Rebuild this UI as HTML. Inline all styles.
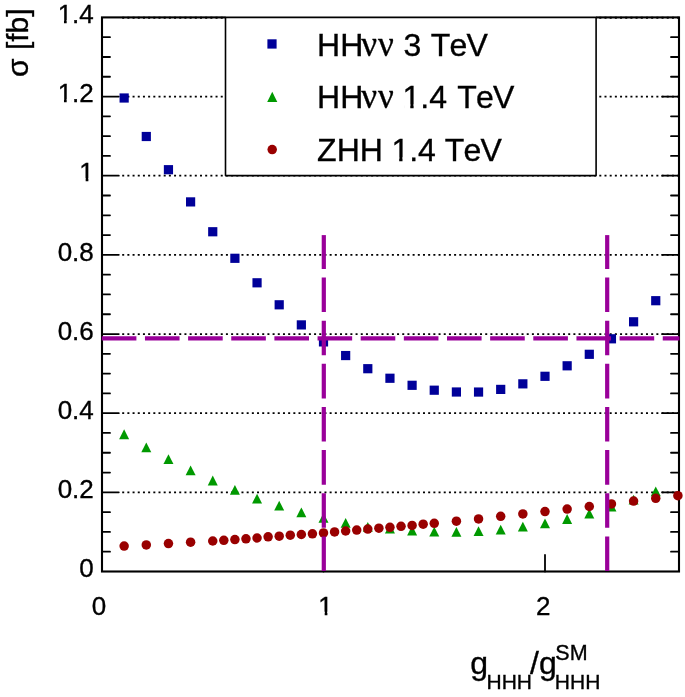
<!DOCTYPE html>
<html lang="en"><head><meta charset="utf-8"><title>Cross section vs coupling</title>
<style>html,body{margin:0;padding:0;background:#fff}svg{display:block}text{font-family:"Liberation Sans",Arial,sans-serif;fill:#000;font-kerning:none;stroke:#000;stroke-width:.35px}.nu{font-family:"Liberation Serif","DejaVu Serif",serif;font-size:35px;letter-spacing:1px}</style></head><body>
<svg width="685" height="697" viewBox="0 0 685 697">
<rect width="685" height="697" fill="#fff"/>
<rect x="102.0" y="17.4" width="577.0" height="554.1" fill="none" stroke="#000" stroke-width="2.1"/>
<g stroke="#000" stroke-width="1.8" stroke-linecap="round" fill="none">
<line x1="102.0" y1="551.71" x2="110.0" y2="551.71"/>
<line x1="679.0" y1="551.71" x2="671.0" y2="551.71"/>
<line x1="102.0" y1="531.92" x2="110.0" y2="531.92"/>
<line x1="679.0" y1="531.92" x2="671.0" y2="531.92"/>
<line x1="102.0" y1="512.13" x2="110.0" y2="512.13"/>
<line x1="679.0" y1="512.13" x2="671.0" y2="512.13"/>
<line x1="102.0" y1="492.34" x2="118.8" y2="492.34"/>
<line x1="679.0" y1="492.34" x2="662.2" y2="492.34"/>
<line x1="102.0" y1="472.55" x2="110.0" y2="472.55"/>
<line x1="679.0" y1="472.55" x2="671.0" y2="472.55"/>
<line x1="102.0" y1="452.76" x2="110.0" y2="452.76"/>
<line x1="679.0" y1="452.76" x2="671.0" y2="452.76"/>
<line x1="102.0" y1="432.97" x2="110.0" y2="432.97"/>
<line x1="679.0" y1="432.97" x2="671.0" y2="432.97"/>
<line x1="102.0" y1="413.19" x2="118.8" y2="413.19"/>
<line x1="679.0" y1="413.19" x2="662.2" y2="413.19"/>
<line x1="102.0" y1="393.40" x2="110.0" y2="393.40"/>
<line x1="679.0" y1="393.40" x2="671.0" y2="393.40"/>
<line x1="102.0" y1="373.61" x2="110.0" y2="373.61"/>
<line x1="679.0" y1="373.61" x2="671.0" y2="373.61"/>
<line x1="102.0" y1="353.82" x2="110.0" y2="353.82"/>
<line x1="679.0" y1="353.82" x2="671.0" y2="353.82"/>
<line x1="102.0" y1="334.03" x2="118.8" y2="334.03"/>
<line x1="679.0" y1="334.03" x2="662.2" y2="334.03"/>
<line x1="102.0" y1="314.24" x2="110.0" y2="314.24"/>
<line x1="679.0" y1="314.24" x2="671.0" y2="314.24"/>
<line x1="102.0" y1="294.45" x2="110.0" y2="294.45"/>
<line x1="679.0" y1="294.45" x2="671.0" y2="294.45"/>
<line x1="102.0" y1="274.66" x2="110.0" y2="274.66"/>
<line x1="679.0" y1="274.66" x2="671.0" y2="274.66"/>
<line x1="102.0" y1="254.87" x2="118.8" y2="254.87"/>
<line x1="679.0" y1="254.87" x2="662.2" y2="254.87"/>
<line x1="102.0" y1="235.08" x2="110.0" y2="235.08"/>
<line x1="679.0" y1="235.08" x2="671.0" y2="235.08"/>
<line x1="102.0" y1="215.29" x2="110.0" y2="215.29"/>
<line x1="679.0" y1="215.29" x2="671.0" y2="215.29"/>
<line x1="102.0" y1="195.50" x2="110.0" y2="195.50"/>
<line x1="679.0" y1="195.50" x2="671.0" y2="195.50"/>
<line x1="102.0" y1="175.71" x2="118.8" y2="175.71"/>
<line x1="679.0" y1="175.71" x2="662.2" y2="175.71"/>
<line x1="102.0" y1="155.92" x2="110.0" y2="155.92"/>
<line x1="679.0" y1="155.92" x2="671.0" y2="155.92"/>
<line x1="102.0" y1="136.14" x2="110.0" y2="136.14"/>
<line x1="679.0" y1="136.14" x2="671.0" y2="136.14"/>
<line x1="102.0" y1="116.35" x2="110.0" y2="116.35"/>
<line x1="679.0" y1="116.35" x2="671.0" y2="116.35"/>
<line x1="102.0" y1="96.56" x2="118.8" y2="96.56"/>
<line x1="679.0" y1="96.56" x2="662.2" y2="96.56"/>
<line x1="102.0" y1="76.77" x2="110.0" y2="76.77"/>
<line x1="679.0" y1="76.77" x2="671.0" y2="76.77"/>
<line x1="102.0" y1="56.98" x2="110.0" y2="56.98"/>
<line x1="679.0" y1="56.98" x2="671.0" y2="56.98"/>
<line x1="102.0" y1="37.19" x2="110.0" y2="37.19"/>
<line x1="679.0" y1="37.19" x2="671.0" y2="37.19"/>
<line x1="323.5" y1="571.5" x2="323.5" y2="554.9"/>
<line x1="323.5" y1="17.4" x2="323.5" y2="34.0"/>
<line x1="545.0" y1="571.5" x2="545.0" y2="554.9"/>
<line x1="545.0" y1="17.4" x2="545.0" y2="34.0"/>
</g>
<g stroke="#000" stroke-width="1.8" stroke-dasharray="2 3.186" fill="none">
<line x1="122.2" y1="492.34" x2="679.0" y2="492.34"/>
<line x1="122.2" y1="413.19" x2="679.0" y2="413.19"/>
<line x1="122.2" y1="334.03" x2="679.0" y2="334.03"/>
<line x1="122.2" y1="254.87" x2="679.0" y2="254.87"/>
<line x1="122.2" y1="175.71" x2="679.0" y2="175.71"/>
<line x1="122.2" y1="96.56" x2="679.0" y2="96.56"/>
<line x1="122.2" y1="17.75" x2="679.0" y2="17.75"/>
</g>
<g fill="#000099">
<rect x="119.55" y="93.40" width="9.2" height="9.2"/>
<rect x="141.70" y="131.90" width="9.2" height="9.2"/>
<rect x="163.85" y="165.10" width="9.2" height="9.2"/>
<rect x="186.00" y="197.30" width="9.2" height="9.2"/>
<rect x="208.15" y="227.15" width="9.2" height="9.2"/>
<rect x="230.30" y="253.70" width="9.2" height="9.2"/>
<rect x="252.45" y="278.20" width="9.2" height="9.2"/>
<rect x="274.60" y="300.20" width="9.2" height="9.2"/>
<rect x="296.75" y="320.30" width="9.2" height="9.2"/>
<rect x="318.90" y="337.30" width="9.2" height="9.2"/>
<rect x="341.05" y="350.95" width="9.2" height="9.2"/>
<rect x="363.20" y="364.10" width="9.2" height="9.2"/>
<rect x="385.35" y="373.65" width="9.2" height="9.2"/>
<rect x="407.50" y="380.70" width="9.2" height="9.2"/>
<rect x="429.65" y="385.60" width="9.2" height="9.2"/>
<rect x="451.80" y="387.40" width="9.2" height="9.2"/>
<rect x="473.95" y="387.45" width="9.2" height="9.2"/>
<rect x="496.10" y="384.80" width="9.2" height="9.2"/>
<rect x="518.25" y="379.25" width="9.2" height="9.2"/>
<rect x="540.40" y="371.70" width="9.2" height="9.2"/>
<rect x="562.55" y="361.20" width="9.2" height="9.2"/>
<rect x="584.70" y="349.70" width="9.2" height="9.2"/>
<rect x="606.85" y="334.20" width="9.2" height="9.2"/>
<rect x="629.00" y="317.20" width="9.2" height="9.2"/>
<rect x="651.15" y="296.10" width="9.2" height="9.2"/>
</g>
<g fill="#009900">
<path d="M119.15 439.15h10L124.15 429.35z"/>
<path d="M141.30 452.35h10L146.30 442.55z"/>
<path d="M163.45 464.00h10L168.45 454.20z"/>
<path d="M185.60 475.35h10L190.60 465.55z"/>
<path d="M207.75 485.40h10L212.75 475.60z"/>
<path d="M229.90 494.75h10L234.90 484.95z"/>
<path d="M252.05 503.50h10L257.05 493.70z"/>
<path d="M274.20 510.57h10L279.20 500.77z"/>
<path d="M296.35 517.20h10L301.35 507.40z"/>
<path d="M318.50 522.80h10L323.50 513.00z"/>
<path d="M340.65 527.70h10L345.65 517.90z"/>
<path d="M362.80 531.70h10L367.80 521.90z"/>
<path d="M384.95 533.60h10L389.95 523.80z"/>
<path d="M407.10 535.40h10L412.10 525.60z"/>
<path d="M429.25 536.60h10L434.25 526.80z"/>
<path d="M451.40 536.80h10L456.40 527.00z"/>
<path d="M473.55 536.10h10L478.55 526.30z"/>
<path d="M495.70 534.50h10L500.70 524.70z"/>
<path d="M517.85 531.50h10L522.85 521.70z"/>
<path d="M540.00 528.20h10L545.00 518.40z"/>
<path d="M562.15 523.90h10L567.15 514.10z"/>
<path d="M584.30 518.60h10L589.30 508.80z"/>
<path d="M606.45 511.60h10L611.45 501.80z"/>
<path d="M628.60 504.60h10L633.60 494.80z"/>
<path d="M650.75 496.20h10L655.75 486.40z"/>
</g>
<g fill="#990000">
<circle cx="124.15" cy="546.10" r="4.75"/>
<circle cx="146.30" cy="544.97" r="4.75"/>
<circle cx="168.45" cy="543.57" r="4.75"/>
<circle cx="190.60" cy="542.17" r="4.75"/>
<circle cx="212.75" cy="541.00" r="4.75"/>
<circle cx="223.82" cy="540.30" r="4.75"/>
<circle cx="234.90" cy="539.60" r="4.75"/>
<circle cx="245.97" cy="538.80" r="4.75"/>
<circle cx="257.05" cy="538.00" r="4.75"/>
<circle cx="268.12" cy="536.85" r="4.75"/>
<circle cx="279.20" cy="536.15" r="4.75"/>
<circle cx="290.27" cy="535.20" r="4.75"/>
<circle cx="301.35" cy="534.50" r="4.75"/>
<circle cx="312.42" cy="533.80" r="4.75"/>
<circle cx="323.50" cy="532.90" r="4.75"/>
<circle cx="334.58" cy="531.95" r="4.75"/>
<circle cx="345.65" cy="531.00" r="4.75"/>
<circle cx="356.73" cy="530.10" r="4.75"/>
<circle cx="367.80" cy="529.10" r="4.75"/>
<circle cx="378.88" cy="528.20" r="4.75"/>
<circle cx="389.95" cy="527.30" r="4.75"/>
<circle cx="401.03" cy="526.30" r="4.75"/>
<circle cx="412.10" cy="525.40" r="4.75"/>
<circle cx="423.18" cy="524.20" r="4.75"/>
<circle cx="434.25" cy="523.30" r="4.75"/>
<circle cx="456.40" cy="521.20" r="4.75"/>
<circle cx="478.55" cy="518.90" r="4.75"/>
<circle cx="500.70" cy="516.30" r="4.75"/>
<circle cx="522.85" cy="513.96" r="4.75"/>
<circle cx="545.00" cy="511.60" r="4.75"/>
<circle cx="567.15" cy="509.05" r="4.75"/>
<circle cx="589.30" cy="506.50" r="4.75"/>
<circle cx="611.45" cy="503.90" r="4.75"/>
<circle cx="633.60" cy="501.10" r="4.75"/>
<circle cx="655.75" cy="498.30" r="4.75"/>
<circle cx="677.90" cy="495.70" r="4.75"/>
</g>
<g stroke="#990099" stroke-width="4.2" stroke-dasharray="34.6 8.55" fill="none">
<line x1="101.8" y1="338.3" x2="679.5" y2="338.3"/>
<line x1="323.8" y1="571.0" x2="323.8" y2="235.1"/>
<line x1="607.2" y1="571.0" x2="607.2" y2="235.1"/>
</g>
<rect x="225.5" y="15" width="370.6" height="20" fill="#fff"/>
<rect x="225.5" y="17.4" width="370.6" height="158.2" fill="#fff" stroke="#000" stroke-width="1.6" stroke-linejoin="round"/>
<rect x="267.4" y="39.3" width="9.2" height="9.3" fill="#000099"/>
<path d="M267.2 102h10.1L272.25 91.8z" fill="#009900"/>
<circle cx="272.2" cy="149.6" r="4.75" fill="#990000"/>
<g font-size="32">
<text y="56.1"><tspan x="317.1">HH</tspan><tspan class="nu" x="361.2">νν </tspan><tspan x="403.4">3 </tspan><tspan x="430.7" letter-spacing="-0.8">TeV</tspan></text>
<text y="108.1"><tspan x="317.1">HH</tspan><tspan class="nu" x="361.2">νν </tspan><tspan x="402.5">1.4 </tspan><tspan x="457.2" letter-spacing="-0.8">TeV</tspan></text>
<text y="161.1"><tspan x="317.1">ZHH </tspan><tspan x="391.4">1.4 </tspan><tspan x="444.8" letter-spacing="-0.8">TeV</tspan></text>
<rect x="404.10" y="104.26" width="6.18" height="5.44" fill="#fff"/><rect x="413.60" y="104.26" width="6.18" height="5.44" fill="#fff"/><rect x="393.00" y="157.26" width="6.18" height="5.44" fill="#fff"/><rect x="402.50" y="157.26" width="6.18" height="5.44" fill="#fff"/>
</g>
<g font-size="26" text-anchor="end">
<text x="93.8" y="577.20">0</text>
<text x="93.8" y="498.04">0.2</text>
<text x="93.8" y="418.89">0.4</text>
<text x="93.8" y="339.73">0.6</text>
<text x="93.8" y="260.57">0.8</text>
<text x="93.8" y="181.41">1</text>
<text x="93.8" y="102.26">1.2</text>
<text x="93.8" y="23.10">1.4</text>
</g>
<g font-size="26" text-anchor="middle">
<text x="99.1" y="614.8">0</text><text x="325.6" y="614.8">1</text><text x="543.3" y="614.8">2</text>
</g>
<rect x="80.64" y="178.29" width="5.02" height="4.42" fill="#fff"/><rect x="88.37" y="178.29" width="5.02" height="4.42" fill="#fff"/><rect x="58.96" y="99.14" width="5.02" height="4.42" fill="#fff"/><rect x="66.68" y="99.14" width="5.02" height="4.42" fill="#fff"/><rect x="58.96" y="19.98" width="5.02" height="4.42" fill="#fff"/><rect x="66.68" y="19.98" width="5.02" height="4.42" fill="#fff"/><rect x="319.67" y="611.68" width="5.02" height="4.42" fill="#fff"/><rect x="327.39" y="611.68" width="5.02" height="4.42" fill="#fff"/>
<text font-size="30" transform="translate(27.8 76.9) rotate(-90)">σ [fb]</text>
<text font-size="32"><tspan x="470.3" y="673.6">g</tspan><tspan font-size="21" x="486.5" y="689.4">HHH</tspan><tspan x="530.1" y="673.6">/g</tspan><tspan font-size="21.5" x="555.3" y="659.7">SM</tspan><tspan font-size="21" x="554.8" y="689.4">HHH</tspan></text>
</svg></body></html>
